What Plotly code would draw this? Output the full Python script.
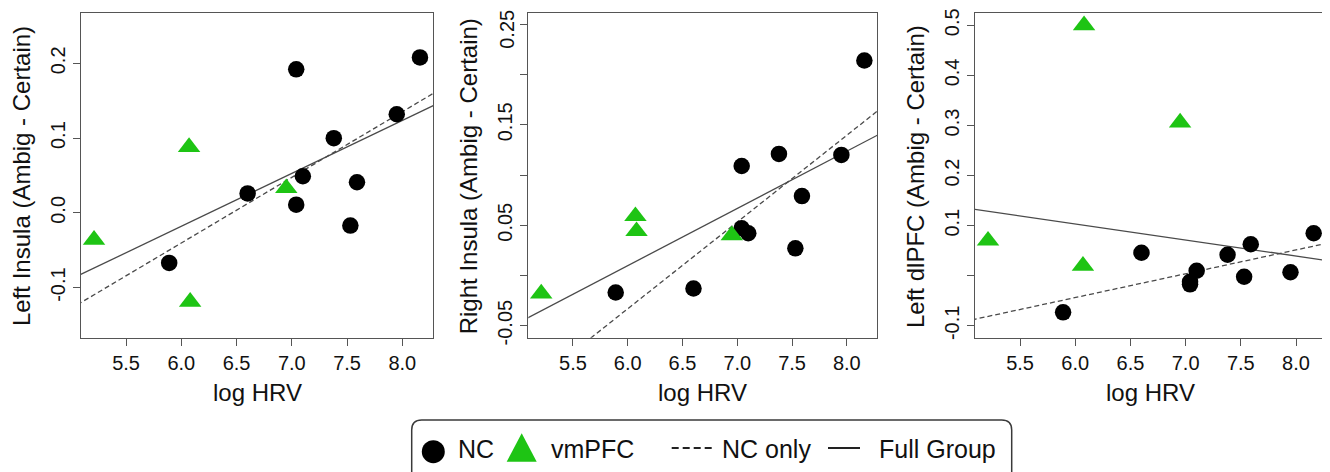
import numpy as np
import plotly.graph_objects as go

# ---------------- data ----------------
nc_hrv = [5.89, 6.60, 7.04, 7.04, 7.10, 7.38, 7.53, 7.59, 7.95, 8.16]
vm_hrv = [5.21, 6.07, 6.08, 6.95]

left_insula_nc = [-0.067, 0.026, 0.192, 0.011, 0.049, 0.100, -0.017, 0.041, 0.132, 0.208]
left_insula_vm = [-0.036, 0.088, -0.119, 0.033]

right_insula_nc = [-0.017, -0.013, 0.109, 0.047, 0.042, 0.121, 0.027, 0.079, 0.120, 0.214]
right_insula_vm = [-0.018, 0.059, 0.044, 0.040]

left_dlpfc_nc = [-0.073, 0.046, -0.012, -0.017, 0.010, 0.042, -0.002, 0.063, 0.007, 0.085]
left_dlpfc_vm = [0.070, 0.020, 0.500, 0.306]

panel_titles = ["Left Insula (Ambig - Certain)",
                "Right Insula (Ambig - Certain)",
                "Left dlPFC (Ambig - Certain)"]
x_title = "log HRV"

x_tickvals = [5.5, 6.0, 6.5, 7.0, 7.5, 8.0]
x_ticktext = ["5.5", "6.0", "6.5", "7.0", "7.5", "8.0"]

y1_tickvals = [-0.1, 0.0, 0.1, 0.2]
y1_ticktext = ["-0.1", "0.0", "0.1", "0.2"]
y2_tickvals = [-0.05, 0.0, 0.05, 0.10, 0.15, 0.20, 0.25]
y2_ticktext = ["-0.05", "", "0.05", "", "0.15", "", "0.25"]
y3_tickvals = [-0.1, 0.0, 0.1, 0.2, 0.3, 0.4, 0.5]
y3_ticktext = ["-0.1", "", "0.1", "0.2", "0.3", "0.4", "0.5"]

legend_names = ["NC", "vmPFC", "NC only", "Full Group"]

# ---------------- layout geometry (viewport px) ----------------
OFF = 8                      # default page body margin
W, H = 1330 - OFF, 472 - OFF
def fx(x):
    return (x - OFF) / W
def fy(y):
    return 1 - (y - OFF) / H

panel_x = [(81, 433), (528.3, 877.3), (975, 1326.7)]
panel_y = (13.3, 337.7)
x_range = [5.092, 8.278]
y_ranges = [[-0.167, 0.267], [-0.062, 0.261], [-0.1236, 0.524]]

BLACK = "#000000"
GREEN = "#1EC414"
LINE = "#4a4a4a"
FRAME = "#555555"
TXT = "#111111"
FONT = "Liberation Sans, Arial, sans-serif"

fig = go.Figure()

panels = [
    (left_insula_nc, left_insula_vm),
    (right_insula_nc, right_insula_vm),
    (left_dlpfc_nc, left_dlpfc_vm),
]
tick_sets = [(y1_tickvals, y1_ticktext), (y2_tickvals, y2_ticktext), (y3_tickvals, y3_ticktext)]

line_x = np.array([4.0, 9.5])
for i, (nc_y, vm_y) in enumerate(panels):
    sfx = "" if i == 0 else str(i + 1)
    xa, ya = "x" + sfx, "y" + sfx
    b_nc = np.polyfit(nc_hrv, nc_y, 1)
    b_all = np.polyfit(nc_hrv + vm_hrv, nc_y + vm_y, 1)
    fig.add_trace(go.Scatter(x=line_x, y=np.polyval(b_nc, line_x), mode="lines",
                             line=dict(color=LINE, width=1.3, dash="5px,3px"),
                             name=legend_names[2], showlegend=False,
                             xaxis=xa, yaxis=ya, hoverinfo="skip"))
    fig.add_trace(go.Scatter(x=line_x, y=np.polyval(b_all, line_x), mode="lines",
                             line=dict(color=LINE, width=1.3),
                             name=legend_names[3], showlegend=False,
                             xaxis=xa, yaxis=ya, hoverinfo="skip"))
    fig.add_trace(go.Scatter(x=nc_hrv, y=nc_y, mode="markers",
                             marker=dict(symbol="circle", size=16.5, color=BLACK, line=dict(width=0)),
                             name=legend_names[0], showlegend=False,
                             xaxis=xa, yaxis=ya))
    fig.add_trace(go.Scatter(x=vm_hrv, y=vm_y, mode="markers",
                             marker=dict(symbol="triangle-up", size=19.5, color=GREEN, line=dict(width=0)),
                             name=legend_names[1], showlegend=False,
                             xaxis=xa, yaxis=ya))

    ticktext = list(tick_sets[i][1])
    top_label = None
    if i == 1:
        # the topmost label would poke out of the page; it is drawn just below instead
        top_label = (tick_sets[i][0][-1], ticktext[-1])
        ticktext[-1] = ""

    axis_common = dict(showline=True, mirror=True, linecolor=FRAME, linewidth=1,
                       ticks="outside", ticklen=7, tickcolor=FRAME, tickwidth=1,
                       showgrid=False, zeroline=False, automargin=False,
                       ticklabeloverflow="allow",
                       tickfont=dict(family=FONT, size=20, color=TXT))
    fig.layout["xaxis" + sfx] = dict(
        domain=[fx(panel_x[i][0]), fx(panel_x[i][1])], range=x_range, anchor=ya,
        tickmode="array", tickvals=x_tickvals, ticktext=x_ticktext, **axis_common)
    fig.layout["yaxis" + sfx] = dict(
        domain=[fy(panel_y[1]), fy(panel_y[0])], range=y_ranges[i], anchor=xa,
        tickmode="array", tickvals=tick_sets[i][0], ticktext=ticktext,
        tickangle=-90, **axis_common)

    if top_label is not None:
        fig.add_annotation(x=fx(panel_x[i][0] - 21.5), y=fy(29), xref="paper", yref="paper",
                           text=top_label[1], textangle=-90, showarrow=False,
                           xanchor="center", yanchor="middle",
                           font=dict(family=FONT, size=20, color=TXT))

    cx = (panel_x[i][0] + panel_x[i][1]) / 2
    fig.add_annotation(x=fx(cx), y=fy(392), xref="paper", yref="paper", text=x_title,
                       showarrow=False, xanchor="center", yanchor="middle",
                       font=dict(family=FONT, size=24, color=TXT))
    fig.add_annotation(x=fx(panel_x[i][0] - 59.5), y=fy(176.5), xref="paper", yref="paper",
                       text=panel_titles[i], textangle=-90,
                       showarrow=False, xanchor="center", yanchor="middle",
                       font=dict(family=FONT, size=24, color=TXT))

# ---------------- legend (drawn as decoration) ----------------
bx0, bx1, by0, by1 = fx(411.7), fx(1011.7), fy(420), fy(492)
rx, ry = 10 / W, 10 / H
path = (f"M {bx0+rx},{by0} L {bx1-rx},{by0} Q {bx1},{by0} {bx1},{by0-ry} "
        f"L {bx1},{by1+ry} Q {bx1},{by1} {bx1-rx},{by1} L {bx0+rx},{by1} "
        f"Q {bx0},{by1} {bx0},{by1+ry} L {bx0},{by0-ry} Q {bx0},{by0} {bx0+rx},{by0} Z")
fig.add_shape(type="path", path=path, xref="paper", yref="paper",
              line=dict(color="#3a3a3a", width=1.5), fillcolor="rgba(0,0,0,0)")

LY = 448
fig.add_shape(type="circle", xref="paper", yref="paper",
              x0=fx(433.3 - 11.5), x1=fx(433.3 + 11.5), y0=fy(LY + 3.7 + 11.5), y1=fy(LY + 3.7 - 11.5),
              fillcolor=BLACK, line=dict(width=0))
fig.add_shape(type="path", xref="paper", yref="paper",
              path=f"M {fx(506.7)},{fy(461.7)} L {fx(536.7)},{fy(461.7)} L {fx(521.7)},{fy(433.3)} Z",
              fillcolor=GREEN, line=dict(width=0))
fig.add_shape(type="line", xref="paper", yref="paper",
              x0=fx(671.7), x1=fx(713), y0=fy(LY), y1=fy(LY),
              line=dict(color="#222222", width=2, dash="7px,4px"))
fig.add_shape(type="line", xref="paper", yref="paper",
              x0=fx(828), x1=fx(860), y0=fy(LY), y1=fy(LY),
              line=dict(color="#222222", width=2))

legend_text_x = [456.7, 550, 720.7, 878]
for name, lx in zip(legend_names, legend_text_x):
    fig.add_annotation(x=fx(lx - 1), y=fy(LY + 1), xref="paper", yref="paper", text=name,
                       showarrow=False, xanchor="left", yanchor="middle",
                       font=dict(family=FONT, size=25, color=TXT))

fig.update_layout(
    width=W, height=H,
    margin=dict(l=0, r=0, t=0, b=0, autoexpand=False),
    paper_bgcolor="white", plot_bgcolor="white",
    showlegend=False,
)

fig.write_html("out.html")
